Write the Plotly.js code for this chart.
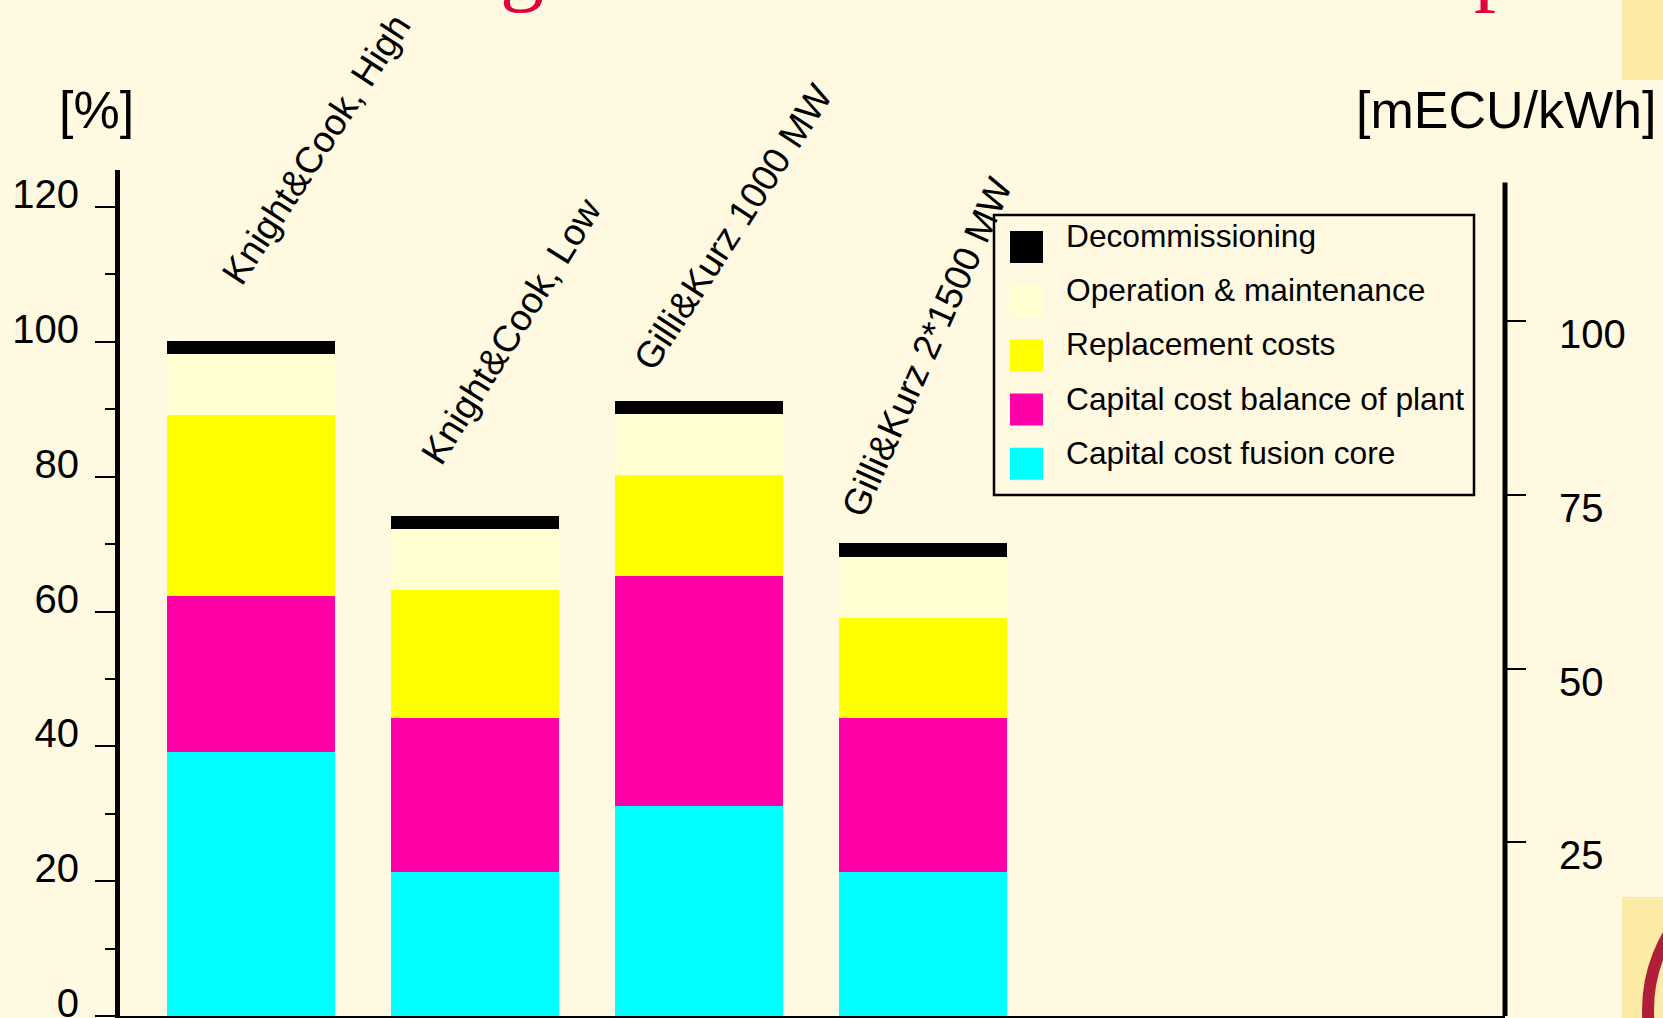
<!DOCTYPE html>
<html>
<head>
<meta charset="utf-8">
<script src="https://cdn.plot.ly/plotly-3.0.1.min.js"></script>
<style>
html,body{margin:0;padding:0;background:#FEF9E0;}
#chart{width:1663px;height:1018px;}
</style>
</head>
<body>
<div id="chart"></div>
<script>
// ---- data ----
const categories = ["Knight&Cook, High", "Knight&Cook, Low", "Gilli&Kurz 1000 MW", "Gilli&Kurz 2*1500 MW"];
const fusionCore      = [39.2, 21.3, 31.2, 21.3];
const balanceOfPlant  = [23.1, 22.9, 34.1, 22.9];
const replacement     = [26.8, 19.0, 14.9, 14.9];
const operation       = [9.1, 9.0, 9.1, 9.0];
const decommissioning = [2.0, 2.0, 2.0, 2.0];
const seriesNames = ["Capital cost fusion core", "Capital cost balance of plant", "Replacement costs", "Operation & maintenance", "Decommissioning"];
const leftTicks = [0, 20, 40, 60, 80, 100, 120];
const rightTicks = [25, 50, 75, 100];

// ---- styles / layout helpers ----
const colors = ["#00FFFF", "#FF00A8", "#FFFF00", "#FFFFD2", "#000000"];
const BG = "#FEF9E0";
const FONT = "Liberation Sans, Arial, Helvetica, sans-serif";
const W = 1663, H = 1018;
const ML = 120, MR = 158, MT = 170, MB = 2;
const PW = W - ML - MR, PH = H - MT - MB;
const px = v => (v - ML) / PW;
const py = v => (H - MB - v) / PH;

const allSeries = [fusionCore, balanceOfPlant, replacement, operation, decommissioning];
const traces = allSeries.map((vals, i) => ({
  type: "bar",
  x: categories,
  y: vals,
  name: seriesNames[i],
  marker: {color: colors[i], line: {width: 0}},
  width: 0.75,
  hoverinfo: "skip",
  showlegend: false
}));
// dummy trace for right axis
traces.push({type: "scatter", x: [categories[0]], y: [0], yaxis: "y2", mode: "markers",
  marker: {opacity: 0}, showlegend: false, hoverinfo: "skip"});

const totals = categories.map((c, i) => allSeries.reduce((s, a) => s + a[i], 0));

// category label placement (layout only)
const labelAngle = [-57, -58, -57, -66];
const labelDX = [-40, -64, -76, -92];
const labelDY = [46, 42, 20, 18];

const annotations = [];
categories.forEach((c, i) => {
  annotations.push({
    x: c, y: totals[i], xref: "x", yref: "y",
    text: c, showarrow: false, textangle: labelAngle[i],
    xanchor: "left", yanchor: "bottom",
    xshift: labelDX[i], yshift: labelDY[i],
    font: {family: FONT, size: 37, color: "#000"}
  });
});
// axis unit titles
annotations.push({xref: "paper", yref: "paper", x: px(96), y: py(110), text: "[%]", showarrow: false,
  xanchor: "center", yanchor: "middle", font: {family: FONT, size: 52, color: "#000"}});
annotations.push({xref: "paper", yref: "paper", x: px(1506), y: py(110), text: "[mECU/kWh]", showarrow: false,
  xanchor: "center", yanchor: "middle", font: {family: FONT, size: 52, color: "#000"}});
// cut-off red slide title fragments
annotations.push({xref: "paper", yref: "paper", x: px(498), y: py(15), text: "g", showarrow: false,
  xanchor: "left", yanchor: "bottom", font: {family: "Liberation Serif, Times New Roman, serif", size: 88, color: "#E0003C"}});
annotations.push({xref: "paper", yref: "paper", x: px(1472), y: py(15), text: "p", showarrow: false,
  xanchor: "left", yanchor: "bottom", font: {family: "Liberation Serif, Times New Roman, serif", size: 88, color: "#E0003C"}});

// custom legend (top to bottom)
const legendOrder = [4, 3, 2, 1, 0];
const shapes = [];
shapes.push({type: "rect", xref: "paper", yref: "paper", x0: px(994), x1: px(1474), y0: py(215), y1: py(495),
  line: {color: "#000", width: 2.5}, fillcolor: "rgba(0,0,0,0)"});
legendOrder.forEach((si, k) => {
  const top = 231 + k * 54.2;
  shapes.push({type: "rect", xref: "paper", yref: "paper", x0: px(1010), x1: px(1043), y0: py(top + 32), y1: py(top),
    line: {width: 0}, fillcolor: colors[si]});
  annotations.push({xref: "paper", yref: "paper", x: px(1064), y: py(top + 5), text: seriesNames[si], showarrow: false,
    xanchor: "left", yanchor: "middle", font: {family: FONT, size: 31.7, color: "#000"}});
});
// right axis line (shorter than plot)
shapes.push({type: "line", xref: "paper", yref: "y2", x0: 1, x1: 1, y0: 0, y1: 120, line: {color: "#000", width: 5}});
// slide decorations at right edge
shapes.push({type: "rect", xref: "paper", yref: "paper", x0: px(1622), x1: px(1670), y0: py(0 - 5), y1: py(80),
  line: {width: 0}, fillcolor: "#FBEBA4", layer: "below"});
shapes.push({type: "rect", xref: "paper", yref: "paper", x0: px(1622), x1: px(1670), y0: py(897), y1: py(1025),
  line: {width: 0}, fillcolor: "#FBEBA4", layer: "below"});
shapes.push({type: "circle", xref: "paper", yref: "paper", x0: px(1797 - 149), x1: px(1797 + 149), y0: py(1010 + 149), y1: py(1010 - 149),
  line: {color: "#B01E38", width: 12}, fillcolor: "rgba(0,0,0,0)"});

const layout = {
  width: W, height: H,
  margin: {l: ML, r: MR, t: MT, b: MB, pad: 0},
  paper_bgcolor: BG, plot_bgcolor: BG,
  barmode: "stack",
  showlegend: false,
  font: {family: FONT, color: "#000"},
  xaxis: {
    type: "category", range: [-0.585, 5.598], showticklabels: false, ticks: "",
    showgrid: false, zeroline: false, showline: true, linecolor: "#000", linewidth: 4, fixedrange: true
  },
  yaxis: {
    range: [0, 125.5], tickvals: leftTicks, ticktext: leftTicks.map(String),
    ticks: "outside", ticklen: 20, tickwidth: 2, tickcolor: "#000",
    minor: {dtick: 10, tick0: 0, ticks: "outside", ticklen: 10, tickwidth: 2, tickcolor: "#000", showgrid: false},
    showgrid: false, zeroline: false, showline: true, linecolor: "#000", linewidth: 5,
    tickfont: {family: FONT, size: 40, color: "#000"},
    ticklabelshift: -13, ticklabelstandoff: 8, ticklabeloverflow: "allow", fixedrange: true
  },
  yaxis2: {
    overlaying: "y", side: "right", range: [0, 121.8], tickvals: rightTicks, ticktext: rightTicks.map(String),
    ticks: "outside", ticklen: 20, tickwidth: 2, tickcolor: "#000",
    showgrid: false, zeroline: false, showline: false,
    tickfont: {family: FONT, size: 40, color: "#000"},
    ticklabelshift: 13, ticklabelstandoff: 25, ticklabeloverflow: "allow", fixedrange: true
  },
  annotations: annotations,
  shapes: shapes
};

Plotly.newPlot("chart", traces, layout, {displayModeBar: false, staticPlot: true});
</script>
</body>
</html>
